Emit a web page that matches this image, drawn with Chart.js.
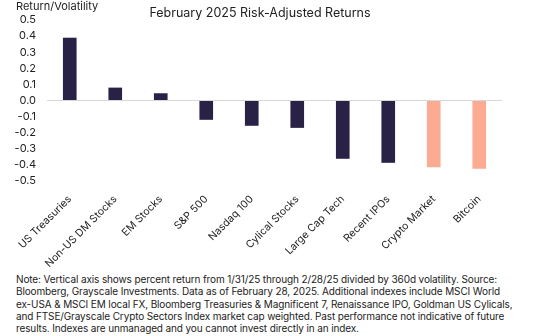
<!DOCTYPE html>
<html lang="en">
<head>
  <meta charset="utf-8">
  <title>February 2025 Risk-Adjusted Returns</title>
  <style>
    html, body { margin: 0; padding: 0; background: #fff; }
    body { width: 540px; height: 336px; position: relative; overflow: hidden; font-family: Inter, "Noto Sans", sans-serif; color: #222; }
    #wrap { position: absolute; left: 0; top: 0; width: 540px; height: 268px; }
    .ylab { position: absolute; left: 16px; top: -1px; font-size: 11px; }
    .title { position: absolute; left: 0; width: 520px; text-align: center; top: 5px; font-size: 12.5px; }
    .note { position: absolute; left: 16px; top: 273px; font-size: 10px; line-height: 12.3px; white-space: nowrap; letter-spacing: -0.12px; }
  </style>
</head>
<body>
  <div id="wrap"><canvas id="chart"></canvas></div>
  <div class="ylab">Return/Volatility</div>
  <div class="title">February 2025 Risk-Adjusted Returns</div>
  <div class="note">
    Note: Vertical axis shows percent return from 1/31/25 through 2/28/25 divided by 360d volatility. Source:<br>
    Bloomberg, Grayscale Investments. Data as of February 28, 2025. Additional indexes include MSCI World<br>
    ex-USA &amp; MSCI EM local FX, Bloomberg Treasuries &amp; Magnificent 7, Renaissance IPO, Goldman US Cylicals,<br>
    and FTSE/Grayscale Crypto Sectors Index market cap weighted. Past performance not indicative of future<br>
    results. Indexes are unmanaged and you cannot invest directly in an index.
  </div>

  <script src="https://cdn.jsdelivr.net/npm/chart.js"></script>
  <script>
    // data
    const categories = ['US Treasuries', 'Non-US DM Stocks', 'EM Stocks', 'S&P 500', 'Nasdaq 100',
                        'Cylical Stocks', 'Large Cap Tech', 'Recent IPOs', 'Crypto Market', 'Bitcoin'];
    const values = [0.39, 0.08, 0.045, -0.12, -0.157, -0.17, -0.362, -0.387, -0.414, -0.424];
    const isCrypto = [false, false, false, false, false, false, false, false, true, true];
    const yTicks = [0.5, 0.4, 0.3, 0.2, 0.1, 0.0, -0.1, -0.2, -0.3, -0.4, -0.5];

    const navy = '#2a2147';
    const salmon = '#fbab91';

    const ctx = document.getElementById('chart').getContext('2d');
    new Chart(ctx, {
      type: 'bar',
      data: {
        labels: categories,
        datasets: [{
          data: values,
          backgroundColor: isCrypto.map(c => c ? salmon : navy),
          barPercentage: 0.3,
          categoryPercentage: 1.0
        }]
      },
      options: {
        responsive: true,
        maintainAspectRatio: false,
        animation: false,
        layout: { padding: { top: 20, right: 38, left: 0, bottom: 0 } },
        plugins: { legend: { display: false }, tooltip: { enabled: false } },
        scales: {
          x: {
            grid: { display: false },
            border: { display: false },
            ticks: {
              color: '#222',
              font: { family: 'Inter', size: 10.5 },
              minRotation: 45,
              maxRotation: 45,
              autoSkip: false,
              padding: 4
            },
            afterFit: s => { s.height = 87; }
          },
          y: {
            min: -0.5,
            max: 0.5,
            afterBuildTicks: s => { s.ticks = yTicks.map(v => ({ value: v })); },
            grid: {
              drawTicks: false,
              color: c => c.tick && Math.abs(c.tick.value) < 1e-9 ? '#d8d8d8' : 'rgba(0,0,0,0)'
            },
            border: { display: false },
            ticks: {
              color: '#222',
              font: { family: 'Inter', size: 11 },
              padding: 11,
              autoSkip: false,
              callback: v => v.toFixed(1)
            },
            afterFit: s => { s.width = 47; }
          }
        }
      }
    });
  </script>
</body>
</html>
